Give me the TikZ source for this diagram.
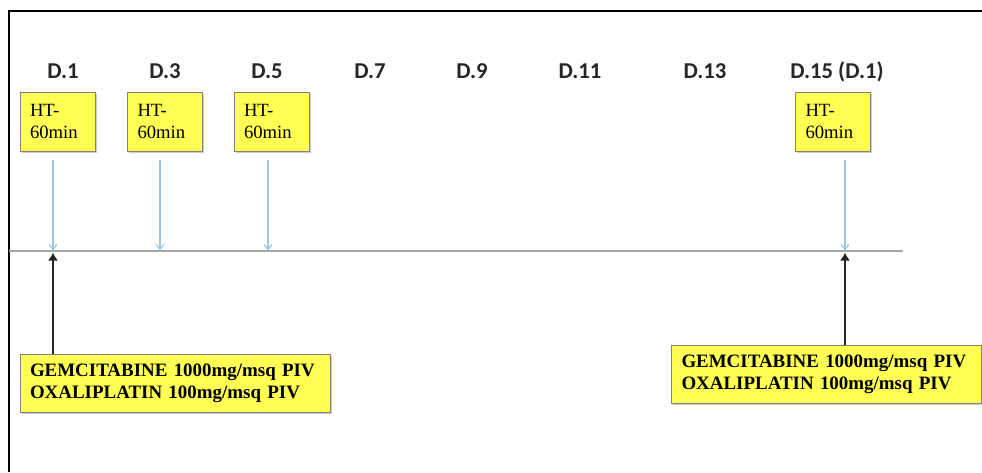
\documentclass[tikz,border=0pt]{standalone}
\usepackage{fontspec}
\setmainfont{Liberation Serif}
\newfontfamily\dayfont{Carlito}
\usetikzlibrary{arrows.meta,shadows}

\definecolor{boxyellow}{RGB}{255,255,84}
\definecolor{htblue}{RGB}{157,195,230}
\definecolor{axisgray}{RGB}{165,165,165}

\tikzset{
	daylabel/.style={anchor=base,font=\dayfont\bfseries\fontsize{17}{20}\selectfont,text=black!85},
	boxshadow/.style={drop shadow={shadow xshift=1.2pt,shadow yshift=-1.2pt,fill=black,opacity=0.2}},
	htbox/.style={draw=black!50,line width=0.6pt,fill=boxyellow,boxshadow,
		minimum width=56.25pt,minimum height=44.25pt,inner xsep=7.5pt,
		text width=41.25pt,align=left,font=\fontsize{14}{16.5}\selectfont},
	drugbox/.style={draw=black!50,line width=0.6pt,fill=boxyellow,boxshadow,
		minimum width=232.5pt,minimum height=43.5pt,inner xsep=7.5pt,
		text width=217.5pt,align=left,font=\bfseries\fontsize{14.2}{16.5}\selectfont},
	htarrow/.style={draw=htblue,line width=0.8pt,-{Straight Barb[length=4pt,width=6pt]}},
	drugarrow/.style={draw=black!85,line width=2pt,-{Latex[length=6pt,width=7.5pt]}},
	axis/.style={draw=axisgray,line width=1.5pt},
	frame/.style={draw=black,line width=1.7pt}
}

\def\httext{HT-\\60min}
\def\drugtext{GEMCITABINE 1000mg/msq PIV\\OXALIPLATIN 100mg/msq PIV}

\begin{document}
\begin{tikzpicture}[x=0.75pt,y=-0.75pt]
\useasboundingbox (0,0) rectangle (982,472);

% frame
\draw[frame] (9,472) -- (9,11) -- (982,11);

% day labels
\foreach \x/\t [count=\i] in {63/D.1,165/D.3,267/D.5,370/D.7,472/D.9,580/D.11,705/D.13,837/D.15 (D.1)}{
	\node[daylabel] (day\i) at (\x,78) {\t};
}

% time axis
\coordinate (axis-start) at (9,250.5);
\coordinate (axis-end) at (903,250.5);
\draw[axis] (axis-start) -- (axis-end);

\coordinate (t1) at (53,250.5);
\coordinate (t2) at (160,250.5);
\coordinate (t3) at (268,250.5);
\coordinate (t4) at (845,250.5);

% HT sessions
\node[htbox] (ht1) at (57.5,121.5) {\httext};
\node[htbox] (ht2) at (165,121.5) {\httext};
\node[htbox] (ht3) at (271.5,121.5) {\httext};
\node[htbox] (ht4) at (833,121.5) {\httext};

\foreach \i in {1,...,4}{
	\draw[htarrow] ([yshift=-6.75pt]ht\i.south -| t\i) -- (t\i);
}

% chemotherapy
\node[drugbox] (drug1) at (175,383) {\drugtext};
\node[drugbox] (drug2) at (826.5,374.5) {\drugtext};

\draw[drugarrow] (drug1.north -| t1) -- ([yshift=-1.5pt]t1);
\draw[drugarrow] (drug2.north -| t4) -- ([yshift=-1.5pt]t4);

\end{tikzpicture}
\end{document}
